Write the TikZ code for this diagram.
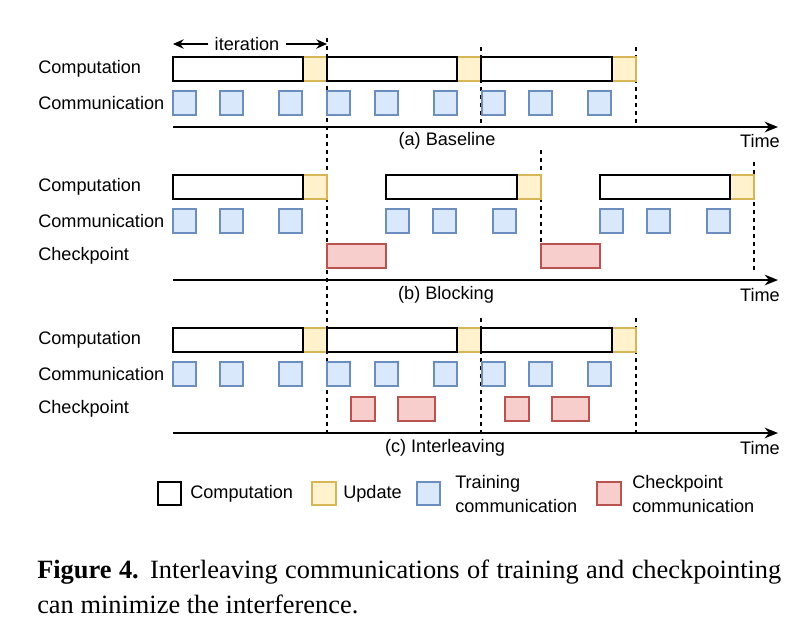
\documentclass[tikz,border=0pt]{standalone}
\usepackage{fontspec}
\usetikzlibrary{arrows.meta}
\setmainfont{Liberation Sans}
\newfontfamily\capfont{Liberation Serif}
\definecolor{ufill}{HTML}{FFF2CC}\definecolor{udraw}{HTML}{D6B656}
\definecolor{tfill}{HTML}{DAE8FC}\definecolor{tdraw}{HTML}{6C8EBF}
\definecolor{cfill}{HTML}{F8CECC}\definecolor{cdraw}{HTML}{B85450}
\begin{document}
\begin{tikzpicture}[x=0.75pt,y=-0.75pt,
 comp/.style={draw=black,fill=white,line width=1pt},
 upd/.style={draw=udraw,fill=ufill,line width=0.8pt},
 trn/.style={draw=tdraw,fill=tfill,line width=0.8pt},
 ckp/.style={draw=cdraw,fill=cfill,line width=0.8pt},
 dsh/.style={dashed,line width=0.9pt},
 axis/.style={-{Stealth[length=10pt,width=8pt]},line width=1.3pt},
 lbl/.style={font=\fontsize{13.6}{15}\selectfont,inner sep=0},
 ]
\useasboundingbox (0,0) rectangle (800,637);
% row labels
\foreach \y/\t [count=\i] in {69/Computation,103/Communication,187/Computation,221/Communication,256/Checkpoint,340/Computation,374/Communication,409/Checkpoint}
  \node[lbl,anchor=west] (rl\i) at (38,\y) {\t};
% dashed lines
\draw[dsh] (327,38) -- (327,433);
\draw[dsh] (481,47) -- (481,127);
\draw[dsh] (636,47) -- (636,127);
\draw[dsh] (541,150) -- (541,258);
\draw[dsh] (754,162) -- (754,270);
\draw[dsh] (481,318) -- (481,433);
\draw[dsh] (636,318) -- (636,433);
% iteration
\node[lbl] (it) at (247,44) {iteration};
\coordinate (itl) at (173,44);
\coordinate (itr) at (327,44);
\draw[-{Stealth[length=8pt,width=7pt]},line width=1pt] (it.west) ++(-6,0) -- (itl);
\draw[-{Stealth[length=8pt,width=7pt]},line width=1pt] (it.east) ++(6,0) -- (itr);
% (a)
\foreach \a/\b/\c in {173/303/327,327/457/481,481/612/636}{
 \draw[upd] (\b,57) rectangle (\c,81);
 \draw[comp] (\a,57) rectangle (\b,81);}
\foreach \x in {173,220,279,327,375,434,482,529,588}
 \draw[trn] (\x,91) rectangle ++(23,24);
\coordinate (a0) at (173,127); \coordinate (a1) at (778,127);
\draw[axis] (a0) -- (a1);
\node[lbl] (la) at (447,141) {(a) Baseline};
\node[lbl] (ta) at (760,141) {Time};
% (b)
\foreach \a/\b/\c in {173/303/327,386/517/541,600/730/754}{
 \draw[upd] (\b,175) rectangle (\c,199);
 \draw[comp] (\a,175) rectangle (\b,199);}
\foreach \x in {173,220,279,386,433,493,600,647,707}
 \draw[trn] (\x,209) rectangle ++(23,24);
\foreach \x in {327,541}
 \draw[ckp] (\x,244) rectangle ++(59,24);
\coordinate (b0) at (173,280); \coordinate (b1) at (778,280);
\draw[axis] (b0) -- (b1);
\node[lbl] (lb) at (446,295) {(b) Blocking};
\node[lbl] (tb) at (760,295) {Time};
% (c)
\foreach \a/\b/\c in {173/303/327,327/457/481,481/612/636}{
 \draw[upd] (\b,328) rectangle (\c,352);
 \draw[comp] (\a,328) rectangle (\b,352);}
\foreach \x in {173,220,279,327,375,434,482,529,588}
 \draw[trn] (\x,362) rectangle ++(23,24);
\draw[ckp] (351,397) rectangle (375,421);
\draw[ckp] (398,397) rectangle (435,421);
\draw[ckp] (505,397) rectangle (529,421);
\draw[ckp] (552,397) rectangle (589,421);
\coordinate (c0) at (173,433); \coordinate (c1) at (778,433);
\draw[axis] (c0) -- (c1);
\node[lbl] (lc) at (445,448) {(c) Interleaving};
\node[lbl] (tc) at (760,448) {Time};
% legend
\draw[comp] (158,482) rectangle (181,505);
\node[lbl,anchor=west] (g1) at (190,494) {Computation};
\draw[upd] (312,482) rectangle (336,505);
\node[lbl,anchor=west] (g2) at (343,494) {Update};
\draw[trn] (417,482) rectangle (440,505);
\node[lbl,align=left,anchor=west] (g3) at (455,494) {Training\\[3pt]communication};
\draw[ckp] (597,482) rectangle (621,505);
\node[lbl,align=left,anchor=west] (g4) at (632,494) {Checkpoint\\[3pt]communication};
% caption
\node[anchor=west,inner sep=0,font=\capfont\fontsize{19.8}{26}\selectfont,text width=558pt,align=justify] (cap) at (37,587)
 {\textbf{Figure 4.} Interleaving communications of training and checkpointing can minimize the interference.};
\end{tikzpicture}
\end{document}
